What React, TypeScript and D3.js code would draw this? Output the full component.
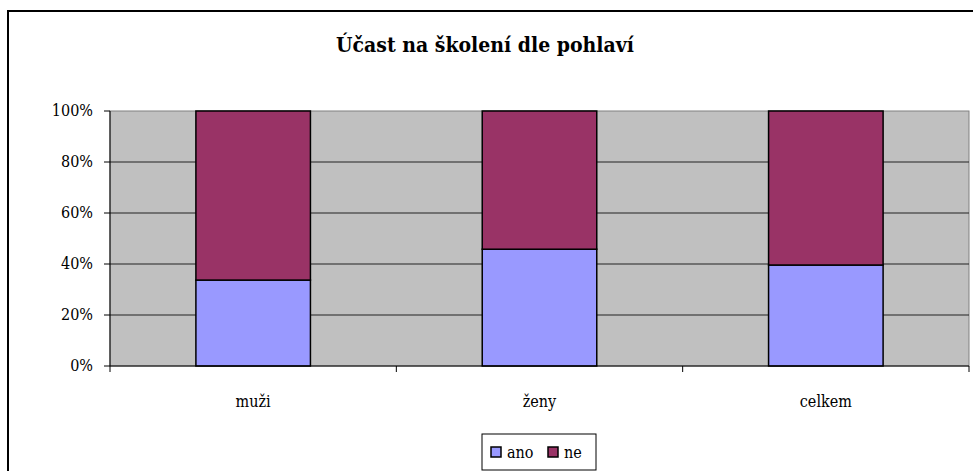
import * as d3 from "d3";
import { useEffect, useRef } from "react";

const categories = ["muži", "ženy", "celkem"];
const seriesNames = ["ano", "ne"];
const ano = [33.7, 45.8, 39.6];
const ne = [66.3, 54.2, 60.4];
const yTicks = [0, 20, 40, 60, 80, 100];
const colors = ["#9999FF", "#993366"];

const W = 973;
const H = 471;

const App = () => {
  const ref = useRef<SVGSVGElement>(null);

  useEffect(() => {
    const svg = d3.select(ref.current);
    svg.selectAll("*").remove();

    const plot = { left: 110, top: 111, right: 969, bottom: 366 };
    const font = "DejaVu Serif Condensed, DejaVu Serif, serif";

    // outer frame
    svg.append("rect")
      .attr("x", 8).attr("y", 11)
      .attr("width", W + 20).attr("height", H + 20)
      .attr("fill", "white").attr("stroke", "black").attr("stroke-width", 2);

    svg.append("text")
      .attr("x", 485).attr("y", 52)
      .attr("text-anchor", "middle")
      .attr("font-family", font).attr("font-weight", "bold").attr("font-size", 21)
      .attr("font-stretch", "condensed")
      .text("Účast na školení dle pohlaví");

    const x = d3.scaleBand().domain(categories).range([plot.left, plot.right]);
    const y = d3.scaleLinear().domain([0, 100]).range([plot.bottom, plot.top]);

    svg.append("rect")
      .attr("x", plot.left).attr("y", plot.top)
      .attr("width", plot.right - plot.left).attr("height", plot.bottom - plot.top)
      .attr("fill", "#C0C0C0").attr("stroke", "#808080").attr("stroke-width", 1);

    // gridlines
    svg.append("g").selectAll("line")
      .data(yTicks.filter(t => t > 0 && t < 100))
      .enter().append("line")
      .attr("x1", plot.left).attr("x2", plot.right)
      .attr("y1", d => y(d)).attr("y2", d => y(d))
      .attr("stroke", "#222").attr("stroke-width", 1);

    const data = categories.map((c, i) => ({ cat: c, ano: ano[i], ne: ne[i] }));
    const stacked = d3.stack<any>().keys(seriesNames)(data);
    const barW = x.bandwidth() * 0.4;

    stacked.forEach((s, si) => {
      svg.append("g").selectAll("rect")
        .data(s)
        .enter().append("rect")
        .attr("x", d => (x(d.data.cat) as number) + (x.bandwidth() - barW) / 2)
        .attr("y", d => y(d[1]))
        .attr("width", barW)
        .attr("height", d => y(d[0]) - y(d[1]))
        .attr("fill", colors[si])
        .attr("stroke", "black").attr("stroke-width", 1.5);
    });

    // y axis
    svg.append("line")
      .attr("x1", plot.left).attr("x2", plot.left)
      .attr("y1", plot.top).attr("y2", plot.bottom)
      .attr("stroke", "black");
    const yg = svg.append("g");
    yTicks.forEach(t => {
      yg.append("line")
        .attr("x1", plot.left - 6).attr("x2", plot.left)
        .attr("y1", y(t)).attr("y2", y(t)).attr("stroke", "black");
      yg.append("text")
        .attr("x", 93).attr("y", y(t) + 5)
        .attr("text-anchor", "end")
        .attr("font-family", font).attr("font-size", 16)
        .attr("font-stretch", "condensed")
        .text(`${t}%`);
    });

    // x axis
    svg.append("line")
      .attr("x1", plot.left).attr("x2", plot.right)
      .attr("y1", plot.bottom).attr("y2", plot.bottom)
      .attr("stroke", "black");
    const bounds = [plot.left, ...categories.map(c => (x(c) as number) + x.bandwidth())];
    bounds.forEach(b => {
      svg.append("line")
        .attr("x1", b).attr("x2", b)
        .attr("y1", plot.bottom).attr("y2", plot.bottom + 6)
        .attr("stroke", "black");
    });
    categories.forEach(c => {
      svg.append("text")
        .attr("x", (x(c) as number) + x.bandwidth() / 2)
        .attr("y", 407)
        .attr("text-anchor", "middle")
        .attr("font-family", font).attr("font-size", 16)
        .attr("font-stretch", "condensed")
        .text(c);
    });

    // legend
    svg.append("rect")
      .attr("x", 482).attr("y", 434).attr("width", 114).attr("height", 36)
      .attr("fill", "white").attr("stroke", "black");
    const itemX = [491, 548];
    seriesNames.forEach((n, i) => {
      svg.append("rect")
        .attr("x", itemX[i]).attr("y", 447).attr("width", 10).attr("height", 10)
        .attr("fill", colors[i]).attr("stroke", "black").attr("stroke-width", 1.5);
      svg.append("text")
        .attr("x", itemX[i] + 16).attr("y", 458)
        .attr("font-family", font).attr("font-size", 16)
        .attr("font-stretch", "condensed")
        .text(n);
    });
  }, []);

  return (
    <svg ref={ref} width={W} height={H}
      style={{ position: "absolute", left: 0, top: 0, background: "white" }} />
  );
};

export default App;
